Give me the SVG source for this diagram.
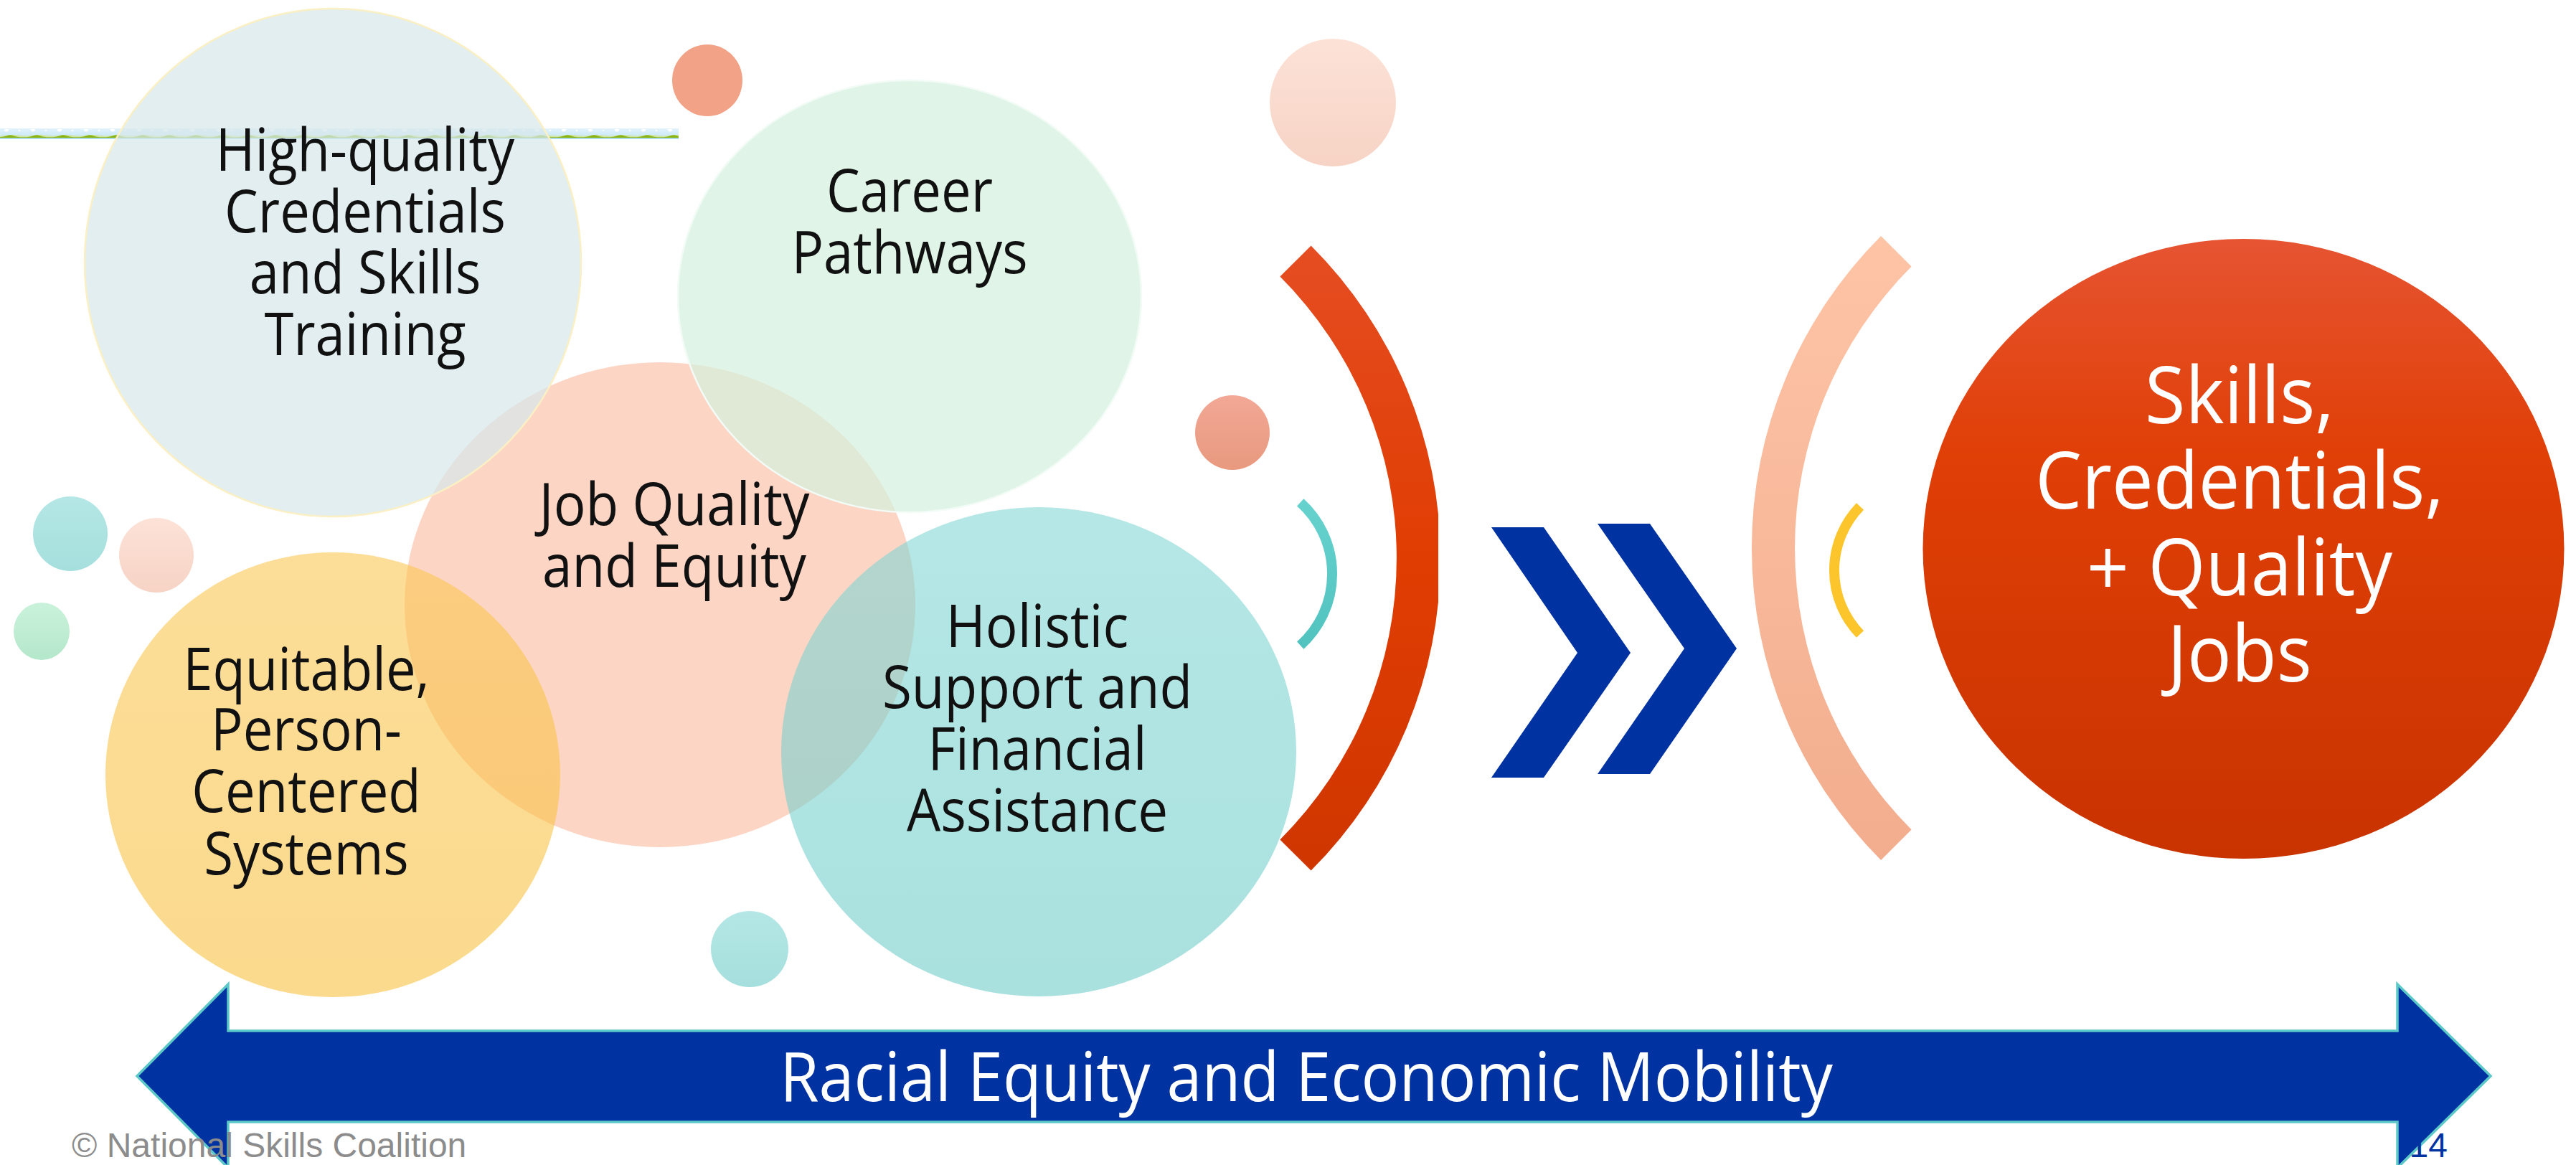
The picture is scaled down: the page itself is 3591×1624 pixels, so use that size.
<svg xmlns="http://www.w3.org/2000/svg" width="3591" height="1624" viewBox="0 0 3591 1624">
<defs>
<style>
.lbl{font-family:"Open Sans","Noto Sans","DejaVu Sans",sans-serif;font-size:82px;fill:#111;text-anchor:middle}
.wlbl{font-family:"Open Sans","Noto Sans","DejaVu Sans",sans-serif;fill:#fff;text-anchor:middle}
.foot{font-family:"Liberation Sans",Arial,sans-serif;font-size:48px}
</style>
<linearGradient id="gYellow" x1="0" y1="0" x2="0" y2="1"><stop offset="0" stop-color="#FBC64E"/><stop offset="1" stop-color="#F7BF3A"/></linearGradient>
<linearGradient id="gTeal" x1="0" y1="0" x2="0" y2="1"><stop offset="0" stop-color="#7FD6D3"/><stop offset="1" stop-color="#6BCBC8"/></linearGradient>
<linearGradient id="gRed" x1="0" y1="0" x2="0" y2="1"><stop offset="0" stop-color="#E65432"/><stop offset="0.35" stop-color="#E03F06"/><stop offset="1" stop-color="#C83300"/></linearGradient>
<linearGradient id="gRedArc" gradientUnits="userSpaceOnUse" x1="0" y1="342" x2="0" y2="1214"><stop offset="0" stop-color="#E54D22"/><stop offset="0.5" stop-color="#E03D02"/><stop offset="1" stop-color="#CF3600"/></linearGradient>
<linearGradient id="gPeachArc" gradientUnits="userSpaceOnUse" x1="0" y1="329" x2="0" y2="1199"><stop offset="0" stop-color="#FEC4A6"/><stop offset="1" stop-color="#F2AD8E"/></linearGradient>
<linearGradient id="gTealArc" gradientUnits="userSpaceOnUse" x1="0" y1="700" x2="0" y2="900"><stop offset="0" stop-color="#66D2CE"/><stop offset="1" stop-color="#52C3BF"/></linearGradient>
<linearGradient id="gDotTeal" x1="0" y1="0" x2="0" y2="1"><stop offset="0" stop-color="#B4E7E6"/><stop offset="1" stop-color="#A5DFDD"/></linearGradient>
<linearGradient id="gDotPeach" x1="0" y1="0" x2="0" y2="1"><stop offset="0" stop-color="#FDE2D7"/><stop offset="1" stop-color="#F6D3C5"/></linearGradient>
<linearGradient id="gDotMint" x1="0" y1="0" x2="0" y2="1"><stop offset="0" stop-color="#CAF2DB"/><stop offset="1" stop-color="#B4E7CB"/></linearGradient>
<linearGradient id="gDotOrange" x1="0" y1="0" x2="0" y2="1"><stop offset="0" stop-color="#F2A896"/><stop offset="1" stop-color="#E8997E"/></linearGradient>
<linearGradient id="gSky" x1="0" y1="0" x2="0" y2="1"><stop offset="0" stop-color="#E2F3FC"/><stop offset="1" stop-color="#C3E5F6"/></linearGradient>
<pattern id="pStrip" x="0" y="179" width="37" height="15" patternUnits="userSpaceOnUse">
<ellipse cx="9" cy="2.6" rx="3.2" ry="1.8" fill="#fff"/>
<ellipse cx="27" cy="2.8" rx="1.5" ry="1.1" fill="#fff"/>
<path d="M0 13.3 L0 10.5 Q9 10 18.5 8.8 Q28 10 37 10.5 L37 13.3 Z" fill="#CFE5A0"/>
<path d="M0 13.3 L0 12.2 Q5 12 10 10 Q14 8.4 18 10 Q23 12 28 12.2 L37 12.2 L37 13.3 Z" fill="#8AB416"/>
<rect x="0" y="13.4" width="37" height="1.4" fill="#A6DBF2"/>
</pattern>
<clipPath id="clipRedArc"><rect x="1700" y="300" width="305" height="960"/></clipPath>
</defs>
<rect width="3591" height="1624" fill="#fff"/>

<g id="strip">
<rect x="0" y="179" width="946" height="15" fill="url(#gSky)"/>
<rect x="0" y="179" width="946" height="15" fill="url(#pStrip)"/>
</g>

<g id="dots">
<ellipse cx="986" cy="112" rx="49" ry="50" fill="#F2A286"/>
<ellipse cx="1858" cy="143" rx="88" ry="89" fill="url(#gDotPeach)"/>
<ellipse cx="98" cy="744" rx="52" ry="52" fill="url(#gDotTeal)"/>
<ellipse cx="218" cy="774" rx="52" ry="52" fill="url(#gDotPeach)"/>
<ellipse cx="58" cy="880" rx="39" ry="40" fill="url(#gDotMint)"/>
<ellipse cx="1045" cy="1323" rx="54" ry="53" fill="url(#gDotTeal)"/>
<ellipse cx="1718" cy="603" rx="52" ry="52" fill="url(#gDotOrange)"/>
</g>

<g id="node-job-quality">
<ellipse cx="920" cy="843" rx="356" ry="338" fill="#FDD5C5"/>
<g transform="translate(940 0) scale(0.91 1)">
<text class="lbl" x="0" y="732">Job Quality</text>
<text class="lbl" x="0" y="818">and Equity</text>
</g>
</g>

<g id="node-credentials-training">
<ellipse cx="464" cy="366" rx="346" ry="354" fill="#D7E7EA" fill-opacity="0.72" stroke="#FBEFC4" stroke-width="2.5"/>
<g transform="translate(509 0) scale(0.905 1)">
<text class="lbl" x="0" y="238">High-quality</text>
<text class="lbl" x="0" y="324">Credentials</text>
<text class="lbl" x="0" y="409">and Skills</text>
<text class="lbl" x="0" y="495">Training</text>
</g>
</g>

<g id="node-career-pathways">
<ellipse cx="1268" cy="413" rx="323" ry="301" fill="#D2F0DE" fill-opacity="0.69" stroke="#F2FBF6" stroke-width="2.5"/>
<g transform="translate(1268 0) scale(0.905 1)">
<text class="lbl" x="0" y="295">Career</text>
<text class="lbl" x="0" y="381">Pathways</text>
</g>
</g>

<g id="node-equitable-systems">
<ellipse cx="464" cy="1080" rx="317" ry="310" fill="url(#gYellow)" fill-opacity="0.58"/>
<g transform="translate(427 0) scale(0.905 1)">
<text class="lbl" x="0" y="962">Equitable,</text>
<text class="lbl" x="0" y="1046">Person-</text>
<text class="lbl" x="0" y="1132">Centered</text>
<text class="lbl" x="0" y="1219">Systems</text>
</g>
</g>

<g id="node-holistic-support">
<ellipse cx="1448" cy="1048" rx="359" ry="341" fill="url(#gTeal)" fill-opacity="0.58"/>
<g transform="translate(1446 0) scale(0.91 1)">
<text class="lbl" x="0" y="902">Holistic</text>
<text class="lbl" x="0" y="987">Support and</text>
<text class="lbl" x="0" y="1073">Financial</text>
<text class="lbl" x="0" y="1159">Assistance</text>
</g>
</g>

<g id="decor-arcs">
<path d="M1827.6 342.4 A616 616 0 0 1 1827.6 1213.6 L1784.4 1170.4 A555 555 0 0 0 1784.4 385.6 Z" fill="url(#gRedArc)" clip-path="url(#clipRedArc)"/>
<path d="M1812.7 700.4 A134 134 0 0 1 1812.7 899.6" fill="none" stroke="url(#gTealArc)" stroke-width="14"/>
<path d="M2622.1 329.1 A615 615 0 0 0 2622.1 1198.9 L2664.6 1156.4 A555 555 0 0 1 2664.6 371.6 Z" fill="url(#gPeachArc)"/>
<path d="M2593 706 A128 128 0 0 0 2593 884" fill="none" stroke="#FCC52B" stroke-width="14"/>
</g>

<g id="connectors">
<polygon points="2079,735 2152,735 2273,910 2152,1084 2079,1084 2199,910" fill="#0033A1"/>
<polygon points="2227,730 2300,730 2421,904 2300,1079 2227,1079 2348,904" fill="#0033A1"/>
</g>

<g id="node-outcome">
<ellipse cx="3127.5" cy="765" rx="447" ry="432" fill="url(#gRed)"/>
<g transform="translate(3122 0) scale(0.935 1)">
<text class="wlbl" x="0" y="590" font-size="110">Skills,</text>
<text class="wlbl" x="0" y="709" font-size="110">Credentials,</text>
<text class="wlbl" x="0" y="830" font-size="110">+ Quality</text>
<text class="wlbl" x="0" y="950" font-size="110">Jobs</text>
</g>
</g>

<g id="node-racial-equity">
<polygon points="191,1500 318,1372 318,1437 3342,1437 3342,1372 3472,1500 3342,1628 3342,1564 318,1564 318,1628" fill="#0033A1" stroke="#5CC8C8" stroke-width="3.5" stroke-linejoin="miter"/>
<g transform="translate(1821 0) scale(0.918 1)">
<text class="wlbl" x="0" y="1535" font-size="96">Racial Equity and Economic Mobility</text>
</g>
</g>

<g id="footer">
<text class="foot" x="100" y="1613" fill="#8C8C8C">© National Skills Coalition</text>
<text class="foot" x="3412" y="1613" fill="#0033A1" text-anchor="end">14</text>
</g>
</svg>
